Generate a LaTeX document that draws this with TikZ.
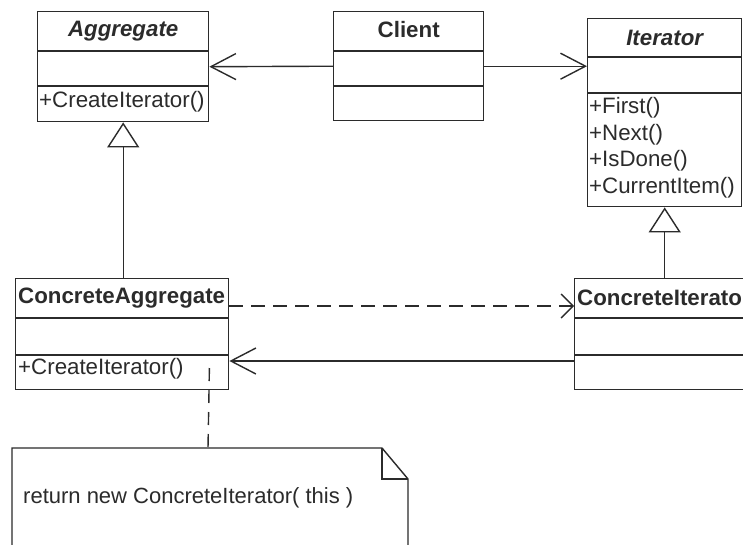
\documentclass[tikz,border=0pt]{standalone}
\usepackage{fontspec}
\setmainfont{Liberation Sans}
\usetikzlibrary{arrows.meta}
\definecolor{ink}{HTML}{2B2B2B}
\begin{document}
\begin{tikzpicture}[x=1pt,y=-1pt,
  cls/.style={draw=ink, line width=1.4pt, fill=white, inner sep=0pt, anchor=north west},
  div/.style={draw=ink, line width=1.4pt},
  txt/.style={text=ink, inner sep=0pt, font=\fontsize{22.3}{26}\selectfont},
  title/.style={txt, font=\fontsize{22.3}{26}\selectfont\bfseries},
  op/.style={txt, anchor=west},
  assoc/.style={draw=ink, line width=1.4pt, -{Straight Barb[length=25pt,width=26pt,line width=1.4pt]}},
  dep/.style={draw=ink, line width=1.4pt, dash pattern=on 14pt off 8pt, -{Straight Barb[length=12pt,width=24pt,line width=1.4pt]}},
  gen/.style={draw=ink, line width=1.4pt, -{Triangle[length=25pt,width=32pt,fill=white,line width=1.4pt]}},
  notelink/.style={draw=ink, line width=1.4pt, dash pattern=on 13pt off 9pt},
  notebox/.style={draw=ink, line width=1.4pt, fill=white}
]
\useasboundingbox (0,0) rectangle (743,544);
\clip (0,0) rectangle (743,544);
\fill[white] (0,0) rectangle (743,544);

% Aggregate
\node[cls, minimum width=171pt, minimum height=110pt] (agg) at (37,11) {};
\draw[div] ([yshift=-40pt]agg.north west) -- ([yshift=-40pt]agg.north east);
\draw[div] ([yshift=-75pt]agg.north west) -- ([yshift=-75pt]agg.north east);
\node[title, font=\fontsize{22.3}{26}\selectfont\bfseries\itshape] (aggName) at ([yshift=-20pt]agg.north) {Aggregate};
\node[op] (aggOp) at ([xshift=2pt,yshift=-91pt]agg.north west) {+CreateIterator()};

% Client
\node[cls, minimum width=150pt, minimum height=109pt] (client) at (333,11) {};
\draw[div] ([yshift=-40pt]client.north west) -- ([yshift=-40pt]client.north east);
\draw[div] ([yshift=-75pt]client.north west) -- ([yshift=-75pt]client.north east);
\node[title] (clientName) at ([yshift=-19pt]client.north) {Client};

% Iterator
\node[cls, minimum width=154pt, minimum height=188pt] (iter) at (587,18) {};
\draw[div] ([yshift=-39pt]iter.north west) -- ([yshift=-39pt]iter.north east);
\draw[div] ([yshift=-75pt]iter.north west) -- ([yshift=-75pt]iter.north east);
\node[title, font=\fontsize{22.3}{26}\selectfont\bfseries\itshape] (iterName) at ([yshift=-20pt]iter.north) {Iterator};
\node[op] (iterOp1) at ([xshift=2pt,yshift=-90pt]iter.north west) {+First()};
\node[op] (iterOp2) at ([xshift=2pt,yshift=-116.5pt]iter.north west) {+Next()};
\node[op] (iterOp3) at ([xshift=2pt,yshift=-143pt]iter.north west) {+IsDone()};
\node[op] (iterOp4) at ([xshift=2pt,yshift=-169.5pt]iter.north west) {+CurrentItem()};

% ConcreteAggregate
\node[cls, minimum width=213pt, minimum height=111pt] (cagg) at (15,278) {};
\draw[div] ([yshift=-40pt]cagg.north west) -- ([yshift=-40pt]cagg.north east);
\draw[div] ([yshift=-77pt]cagg.north west) -- ([yshift=-77pt]cagg.north east);
\node[title, anchor=west] (caggName) at ([xshift=3pt,yshift=-20pt]cagg.north west) {ConcreteAggregate};
\node[op] (caggOp) at ([xshift=3pt,yshift=-91pt]cagg.north west) {+CreateIterator()};

% ConcreteIterator
\node[cls, minimum width=180pt, minimum height=111pt] (citer) at (574,278) {};
\draw[div] ([yshift=-40pt]citer.north west) -- ([yshift=-40pt]citer.north east);
\draw[div] ([yshift=-77pt]citer.north west) -- ([yshift=-77pt]citer.north east);
\node[title, anchor=west] (citerName) at ([xshift=3pt,yshift=-20pt]citer.north west) {ConcreteIterator};

% associations
\draw[assoc] (client.west) -- (agg.east);
\draw[assoc] (client.east) -- (client.east -| iter.west);
\draw[dep] ([yshift=-28pt]cagg.north east) -- ([yshift=-28pt]citer.north west);
\draw[assoc] ([yshift=-83pt]citer.north west) -- ([yshift=-83pt]cagg.north east);

% generalizations
\draw[gen] (agg.south |- cagg.north) -- (agg.south);
\draw[gen] (iter.south |- citer.north) -- (iter.south);

% note
\draw[notebox] (12,560) -- (12,448) -- (382,448) -- (408,479) -- (408,560);
\draw[notebox, fill=none] (382,448) -- (382,479) -- (408,479);
\coordinate (noteTop) at (208,448);
\node[txt, anchor=west, font=\fontsize{22}{26}\selectfont] (noteText) at (23,498) {return new ConcreteIterator( this )};
\draw[notelink] ([xshift=-20pt,yshift=-90pt]cagg.north east) -- (noteTop);
\end{tikzpicture}
\end{document}
